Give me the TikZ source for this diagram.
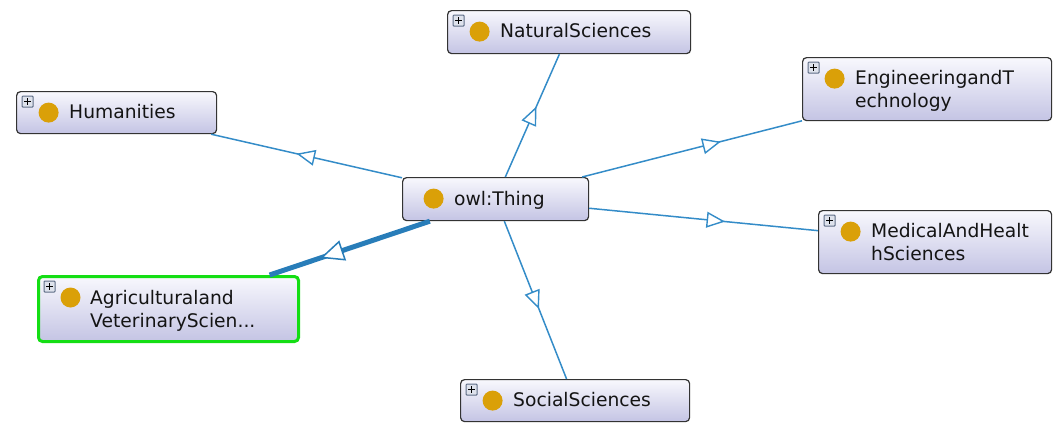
\documentclass[tikz,border=0pt]{standalone}
\usepackage{fontspec}
\setmainfont{DejaVu Sans}
\usetikzlibrary{decorations.markings}
\definecolor{edgeblue}{RGB}{52,140,200}
\definecolor{edgedark}{RGB}{40,125,185}
\definecolor{dotgold}{RGB}{218,160,8}
\definecolor{boxtop}{RGB}{248,248,253}
\definecolor{boxbot}{RGB}{196,196,228}
\definecolor{selgreen}{RGB}{20,222,20}
\definecolor{iconfill}{RGB}{222,226,236}
\definecolor{iconline}{RGB}{95,110,135}
\begin{document}
\begin{tikzpicture}[x=1pt,y=-1pt,
  clsbox/.style 2 args={draw=black!80, line width=1.2pt, rounded corners=4pt,
    top color=boxtop, bottom color=boxbot, anchor=north west, inner sep=0pt,
    minimum width=#1, minimum height=#2},
  seldraw/.style={draw=selgreen, line width=3pt},
  dot/.style={path picture={
    \fill[dotgold] ([shift={(31,21)}]path picture bounding box.north west) circle (10);}},
  plusdot/.style={path picture={
    \fill[dotgold] ([shift={(32,21)}]path picture bounding box.north west) circle (10);
    \draw[iconline, fill=iconfill, line width=1pt, rounded corners=0.8pt]
      ([shift={(5.5,4.5)}]path picture bounding box.north west) rectangle ++(11,11);
    \draw[black, line width=1.6pt]
      ([shift={(7.5,10)}]path picture bounding box.north west) -- ++(7,0)
      ([shift={(11,6.5)}]path picture bounding box.north west) -- ++(0,7);}},
  lbl/.style={anchor=base west, align=left, inner sep=0pt,
    font=\fontsize{18.7}{23}\selectfont, text=black!92},
  edge/.style={draw=edgeblue, line width=1.5pt},
  thickedge/.style={draw=edgedark, line width=5pt},
  midtri/.style={postaction={decorate}, decoration={markings, mark=at position 0.5 with {
    \draw[edgeblue, fill=white, line width=1.4pt, line join=miter] (8,0) -- (-8,7) -- (-8,-7) -- cycle;}}},
  bigtri/.style={postaction={decorate}, decoration={markings, mark=at position 0.5 with {
    \draw[edgedark, fill=white, line width=1.5pt, line join=miter] (10.5,0) -- (-10.5,9.5) -- (-10.5,-9.5) -- cycle;}}}
]
\useasboundingbox (0,0) rectangle (1053,424);

% boxes
\node[clsbox={243pt}{43pt}, plusdot] (ns) at (447,10) {};
\node[clsbox={200pt}{42pt}, plusdot] (hum) at (16,91) {};
\node[clsbox={249pt}{63pt}, plusdot] (eng) at (802,57) {};
\node[clsbox={186pt}{43pt}, dot] (thing) at (402,177) {};
\node[clsbox={233pt}{63pt}, plusdot] (med) at (818,210) {};
\node[clsbox={260pt}{65pt}, plusdot, seldraw] (agr) at (37,275) {};
\node[clsbox={229pt}{42pt}, plusdot] (soc) at (460,379) {};

% labels (base anchor = baseline of the last line)
\node[lbl] (ns-l) at ([shift={(53,27)}]ns.north west) {NaturalSciences};
\node[lbl] (hum-l) at ([shift={(53,27)}]hum.north west) {Humanities};
\node[lbl] (eng-l) at ([shift={(53,50)}]eng.north west) {EngineeringandT\\echnology};
\node[lbl] (thing-l) at ([shift={(52,28)}]thing.north west) {owl:Thing};
\node[lbl] (med-l) at ([shift={(53,50)}]med.north west) {MedicalAndHealt\\hSciences};
\node[lbl] (agr-l) at ([shift={(53,52)}]agr.north west) {Agriculturaland\\VeterinaryScien...};
\node[lbl] (soc-l) at ([shift={(53,27)}]soc.north west) {SocialSciences};

% connectors
\draw[edge] (thing) -- (ns);
\draw[edge] (thing) -- (hum);
\draw[edge] (thing) -- (eng);
\draw[edge] (thing) -- (med);
\draw[edge] (thing) -- (soc);
\draw[thickedge] (thing) -- (agr);

% arrowheads at the midpoint between centres
\path[midtri] (thing.center) -- (ns.center);
\path[midtri] (thing.center) -- (hum.center);
\path[midtri] (thing.center) -- (eng.center);
\path[midtri] (thing.center) -- (med.center);
\path[midtri] (thing.center) -- (soc.center);
\path[bigtri] (thing.center) -- (agr.center);
\end{tikzpicture}
\end{document}
